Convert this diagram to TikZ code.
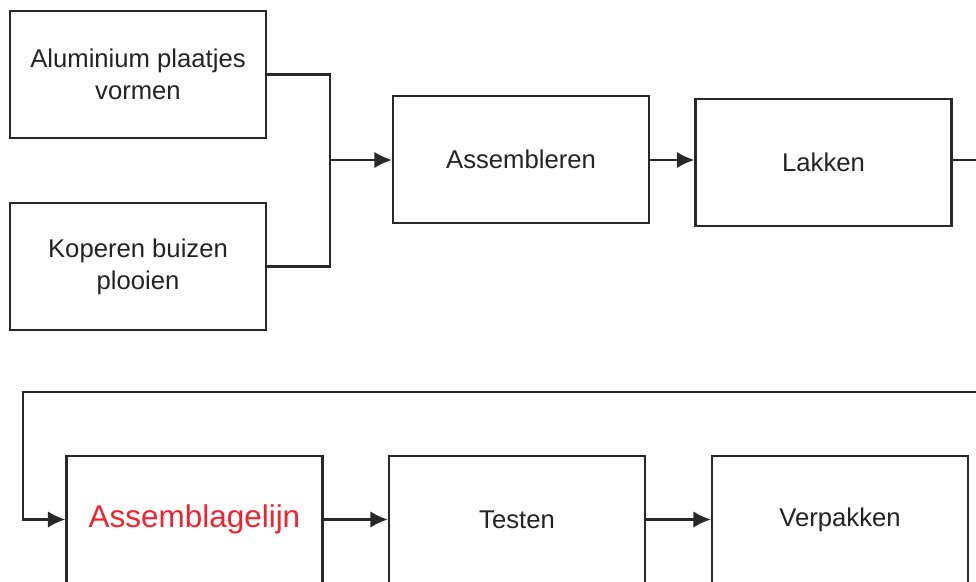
\documentclass[tikz,border=0pt]{standalone}
\usepackage{fontspec}
\setmainfont{Liberation Sans}
\usepackage{tikz}
\usetikzlibrary{arrows.meta,positioning,calc}

\definecolor{linegray}{RGB}{40,40,40}
\definecolor{txtgray}{RGB}{35,35,35}
\definecolor{redtxt}{RGB}{238,36,48}

\begin{document}
\begin{tikzpicture}[
  proc/.style={draw=linegray, line width=1.3pt, fill=white, minimum width=5.12cm, minimum height=2.54cm, align=center, text=txtgray, font=\fontsize{14.6}{18.2}\selectfont, inner sep=0pt},
  conn/.style={draw=linegray, line width=1.3pt},
  arr/.style={conn, -{Latex[length=3.5mm,width=3.3mm]}}
]
\useasboundingbox (0,0) rectangle (19.52,-11.64);
\clip (0,0) rectangle (19.52,-11.64);

\node[proc] (alu) at (2.76,-1.49) {Aluminium plaatjes\\vormen};
\node[proc] (kop) at (2.76,-5.33) {Koperen buizen\\plooien};
\node[proc] (asm) at (10.42,-3.19) {Assembleren};
\node[proc] (lak) at (16.47,-3.25) {Lakken};

\node[proc, text=redtxt, font=\fontsize{17.9}{21}\selectfont] (asl) at (3.89,-10.39) {Assemblagelijn};
\node[proc] (tst) at (10.34,-10.39) {Testen};
\node[proc] (ver) at (16.80,-10.39) {Verpakken};

\coordinate (jn) at (6.6,-3.2);
\coordinate (lakout) at (19.6,-3.2);
\coordinate (retin) at (19.6,-7.84);
\coordinate (retdown) at (0.46,-7.84);

% top row
\draw[conn] (alu.east) -| (jn);
\draw[conn] (kop.east) -| (jn);
\draw[arr] (jn) -- (jn -| asm.west);
\draw[arr] (asm.east |- jn) -- (jn -| lak.west);
\draw[conn] (lak.east |- jn) -- (lakout);

% bottom row
\draw[arr] (retin) -- (retdown) |- (asl.west);
\draw[arr] (asl.east) -- (tst.west);
\draw[arr] (tst.east) -- (ver.west);

\end{tikzpicture}
\end{document}
